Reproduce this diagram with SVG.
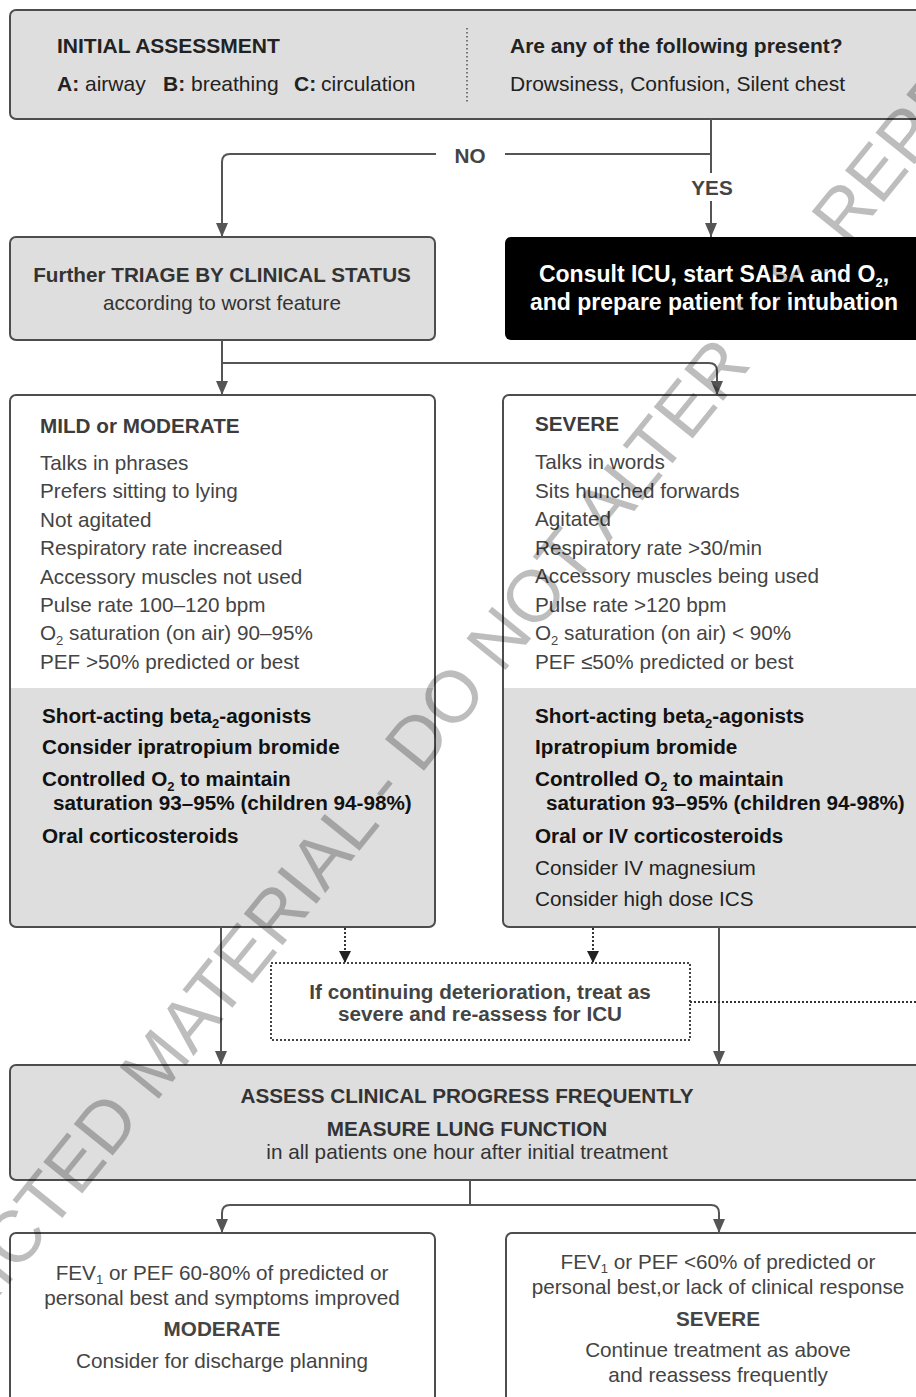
<svg xmlns="http://www.w3.org/2000/svg" width="916" height="1397" viewBox="0 0 916 1397">
<defs>
<style>
text{font-family:"Liberation Sans",Arial,sans-serif;font-size:20.7px;fill:#333}
.b{font-weight:bold}
.t{font-size:21px;fill:#222}
.c{text-anchor:middle}
.li{fill:#444}
.hd{fill:#3c3c3c;font-weight:bold}
.tr{fill:#111;font-weight:bold}
.tn{fill:#222}
.w{fill:#fff;font-weight:bold;font-size:23px}
.sub{font-size:13px}
.box{fill:#dedede;stroke:#4d4d4d;stroke-width:2}
.wbox{fill:#fff;stroke:#4d4d4d;stroke-width:2}
.ol{fill:none;stroke:#4d4d4d;stroke-width:2}
.ln{fill:none;stroke:#555;stroke-width:2}
.dl{fill:none;stroke:#333;stroke-width:2;stroke-dasharray:2 2}
.wm{font-size:73px;fill:#000;fill-opacity:0.26}
</style>
<marker id="ah" viewBox="0 0 14 12" refX="14" refY="6" markerWidth="14" markerHeight="12" markerUnits="userSpaceOnUse" orient="auto">
<path d="M0,0 L14,6 L0,12 z" fill="#555"/>
</marker>
<marker id="ahd" viewBox="0 0 12 12" refX="12" refY="6" markerWidth="12" markerHeight="12" markerUnits="userSpaceOnUse" orient="auto">
<path d="M0,0 L12,6 L0,12 z" fill="#222"/>
</marker>
</defs>
<rect width="916" height="1397" fill="#fff"/>

<g id="initial">
<rect class="box" x="10" y="10" width="930" height="109" rx="6"/>
<line x1="467" y1="28" x2="467" y2="102" stroke="#555" stroke-width="1.5" stroke-dasharray="1.5 2.5"/>
<text class="t b" x="57" y="53">INITIAL ASSESSMENT</text>
<text class="t" y="91"><tspan class="b" x="57">A:</tspan><tspan x="85">airway</tspan><tspan class="b" x="163">B:</tspan><tspan x="191">breathing</tspan><tspan class="b" x="294">C:</tspan><tspan x="321">circulation</tspan></text>
<text class="t b" x="510" y="53">Are any of the following present?</text>
<text class="t" x="510" y="91">Drowsiness, Confusion, Silent chest</text>
</g>

<g id="triage">
<rect class="box" x="10" y="237" width="425" height="103" rx="6"/>
<text class="b c" x="222" y="282">Further TRIAGE BY CLINICAL STATUS</text>
<text class="c" x="222" y="310">according to worst feature</text>
</g>

<g id="icu">
<rect x="505" y="237" width="430" height="103" rx="6" fill="#000"/>
<text class="w c" x="714" y="282">Consult ICU, start SABA and O<tspan class="sub" dy="5">2</tspan><tspan dy="-5">,</tspan></text>
<text class="w c" x="714" y="310">and prepare patient for intubation</text>
</g>

<g id="mild">
<rect x="10" y="395" width="425" height="532" rx="6" fill="#dedede"/>
<path d="M10,688 V401 Q10,395 16,395 H429 Q435,395 435,401 V688 Z" fill="#fff"/>
<rect class="ol" x="10" y="395" width="425" height="532" rx="6"/>
<text class="hd" x="40" y="433">MILD or MODERATE</text>
<text class="li" x="40" y="470">Talks in phrases</text>
<text class="li" x="40" y="498.4">Prefers sitting to lying</text>
<text class="li" x="40" y="526.8">Not agitated</text>
<text class="li" x="40" y="555.2">Respiratory rate increased</text>
<text class="li" x="40" y="583.6">Accessory muscles not used</text>
<text class="li" x="40" y="612">Pulse rate 100–120 bpm</text>
<text class="li" x="40" y="640.4">O<tspan class="sub" dy="5">2</tspan><tspan dy="-5"> saturation (on air) 90–95%</tspan></text>
<text class="li" x="40" y="668.8">PEF &gt;50% predicted or best</text>
<text class="tr" x="42" y="723">Short-acting beta<tspan class="sub" dy="5">2</tspan><tspan dy="-5">-agonists</tspan></text>
<text class="tr" x="42" y="754">Consider ipratropium bromide</text>
<text class="tr" x="42" y="786">Controlled O<tspan class="sub" dy="5">2</tspan><tspan dy="-5"> to maintain</tspan></text>
<text class="tr" x="53" y="810">saturation 93–95% (children 94-98%)</text>
<text class="tr" x="42" y="843">Oral corticosteroids</text>
</g>

<g id="severe">
<rect x="503" y="395" width="432" height="532" rx="6" fill="#dedede"/>
<path d="M503,688 V401 Q503,395 509,395 H935 V688 Z" fill="#fff"/>
<rect class="ol" x="503" y="395" width="432" height="532" rx="6"/>
<text class="hd" x="535" y="431">SEVERE</text>
<text class="li" x="535" y="469">Talks in words</text>
<text class="li" x="535" y="497.5">Sits hunched forwards</text>
<text class="li" x="535" y="526">Agitated</text>
<text class="li" x="535" y="554.5">Respiratory rate &gt;30/min</text>
<text class="li" x="535" y="583">Accessory muscles being used</text>
<text class="li" x="535" y="611.5">Pulse rate &gt;120 bpm</text>
<text class="li" x="535" y="640">O<tspan class="sub" dy="5">2</tspan><tspan dy="-5"> saturation (on air) &lt; 90%</tspan></text>
<text class="li" x="535" y="668.5">PEF ≤50% predicted or best</text>
<text class="tr" x="535" y="723">Short-acting beta<tspan class="sub" dy="5">2</tspan><tspan dy="-5">-agonists</tspan></text>
<text class="tr" x="535" y="754">Ipratropium bromide</text>
<text class="tr" x="535" y="786">Controlled O<tspan class="sub" dy="5">2</tspan><tspan dy="-5"> to maintain</tspan></text>
<text class="tr" x="546" y="810">saturation 93–95% (children 94-98%)</text>
<text class="tr" x="535" y="843">Oral or IV corticosteroids</text>
<text class="tn" x="535" y="875">Consider IV magnesium</text>
<text class="tn" x="535" y="906">Consider high dose ICS</text>
</g>

<g id="deterioration">
<rect x="271" y="963" width="419" height="77" fill="#fff" stroke="#444" stroke-width="2" stroke-dasharray="2 2"/>
<text class="b c li" x="480" y="999">If continuing deterioration, treat as</text>
<text class="b c li" x="480" y="1021">severe and re-assess for ICU</text>
</g>

<g id="assess">
<rect class="box" x="10" y="1065" width="930" height="115" rx="6"/>
<text class="b c" x="467" y="1103">ASSESS CLINICAL PROGRESS FREQUENTLY</text>
<text class="b c" x="467" y="1136">MEASURE LUNG FUNCTION</text>
<text class="c" x="467" y="1159">in all patients one hour after initial treatment</text>
</g>

<g id="moderate-result">
<rect class="wbox" x="10" y="1233" width="425" height="200" rx="6"/>
<text class="c li" x="222" y="1280">FEV<tspan class="sub" dy="4">1</tspan><tspan dy="-4"> or PEF 60-80% of predicted or</tspan></text>
<text class="c li" x="222" y="1305">personal best and symptoms improved</text>
<text class="c li b" x="222" y="1336">MODERATE</text>
<text class="c li" x="222" y="1368">Consider for discharge planning</text>
</g>

<g id="severe-result">
<rect class="wbox" x="506" y="1233" width="430" height="200" rx="6"/>
<text class="c li" x="718" y="1269">FEV<tspan class="sub" dy="4">1</tspan><tspan dy="-4"> or PEF &lt;60% of predicted or</tspan></text>
<text class="c li" x="718" y="1294">personal best,or lack of clinical response</text>
<text class="c li b" x="718" y="1326">SEVERE</text>
<text class="c li" x="718" y="1357">Continue treatment as above</text>
<text class="c li" x="718" y="1382">and reassess frequently</text>
</g>

<g id="connectors">
<path class="ln" d="M711,119 V154 H505"/>
<path class="ln" d="M436,154 H230 Q222,154 222,162 V237" marker-end="url(#ah)"/>
<text class="b c li" x="470" y="163">NO</text>
<path class="ln" d="M711,154 V173"/>
<path class="ln" d="M711,201 V237" marker-end="url(#ah)"/>
<text class="b c li" x="712" y="195">YES</text>
<path class="ln" d="M222,340 V395" marker-end="url(#ah)"/>
<path class="ln" d="M222,363 H709 Q717,363 717,371 V395" marker-end="url(#ah)"/>
<path class="ln" d="M221,927 V1065" marker-end="url(#ah)"/>
<path class="ln" d="M719,927 V1065" marker-end="url(#ah)"/>
<path class="dl" d="M345,928 V963" marker-end="url(#ahd)"/>
<path class="dl" d="M593,928 V963" marker-end="url(#ahd)"/>
<path class="dl" d="M690,1002 H916"/>
<path class="ln" d="M470,1180 V1205"/>
<path class="ln" d="M470,1205 H230 Q222,1205 222,1213 V1233" marker-end="url(#ah)"/>
<path class="ln" d="M470,1205 H711 Q719,1205 719,1213 V1233" marker-end="url(#ah)"/>
</g>

<g id="watermark">
<text class="wm" transform="translate(-151,1482) rotate(-51.04)">RESTRICTED MATERIAL - DO NOT ALTER OR REPRODUCE</text>
</g>
</svg>
